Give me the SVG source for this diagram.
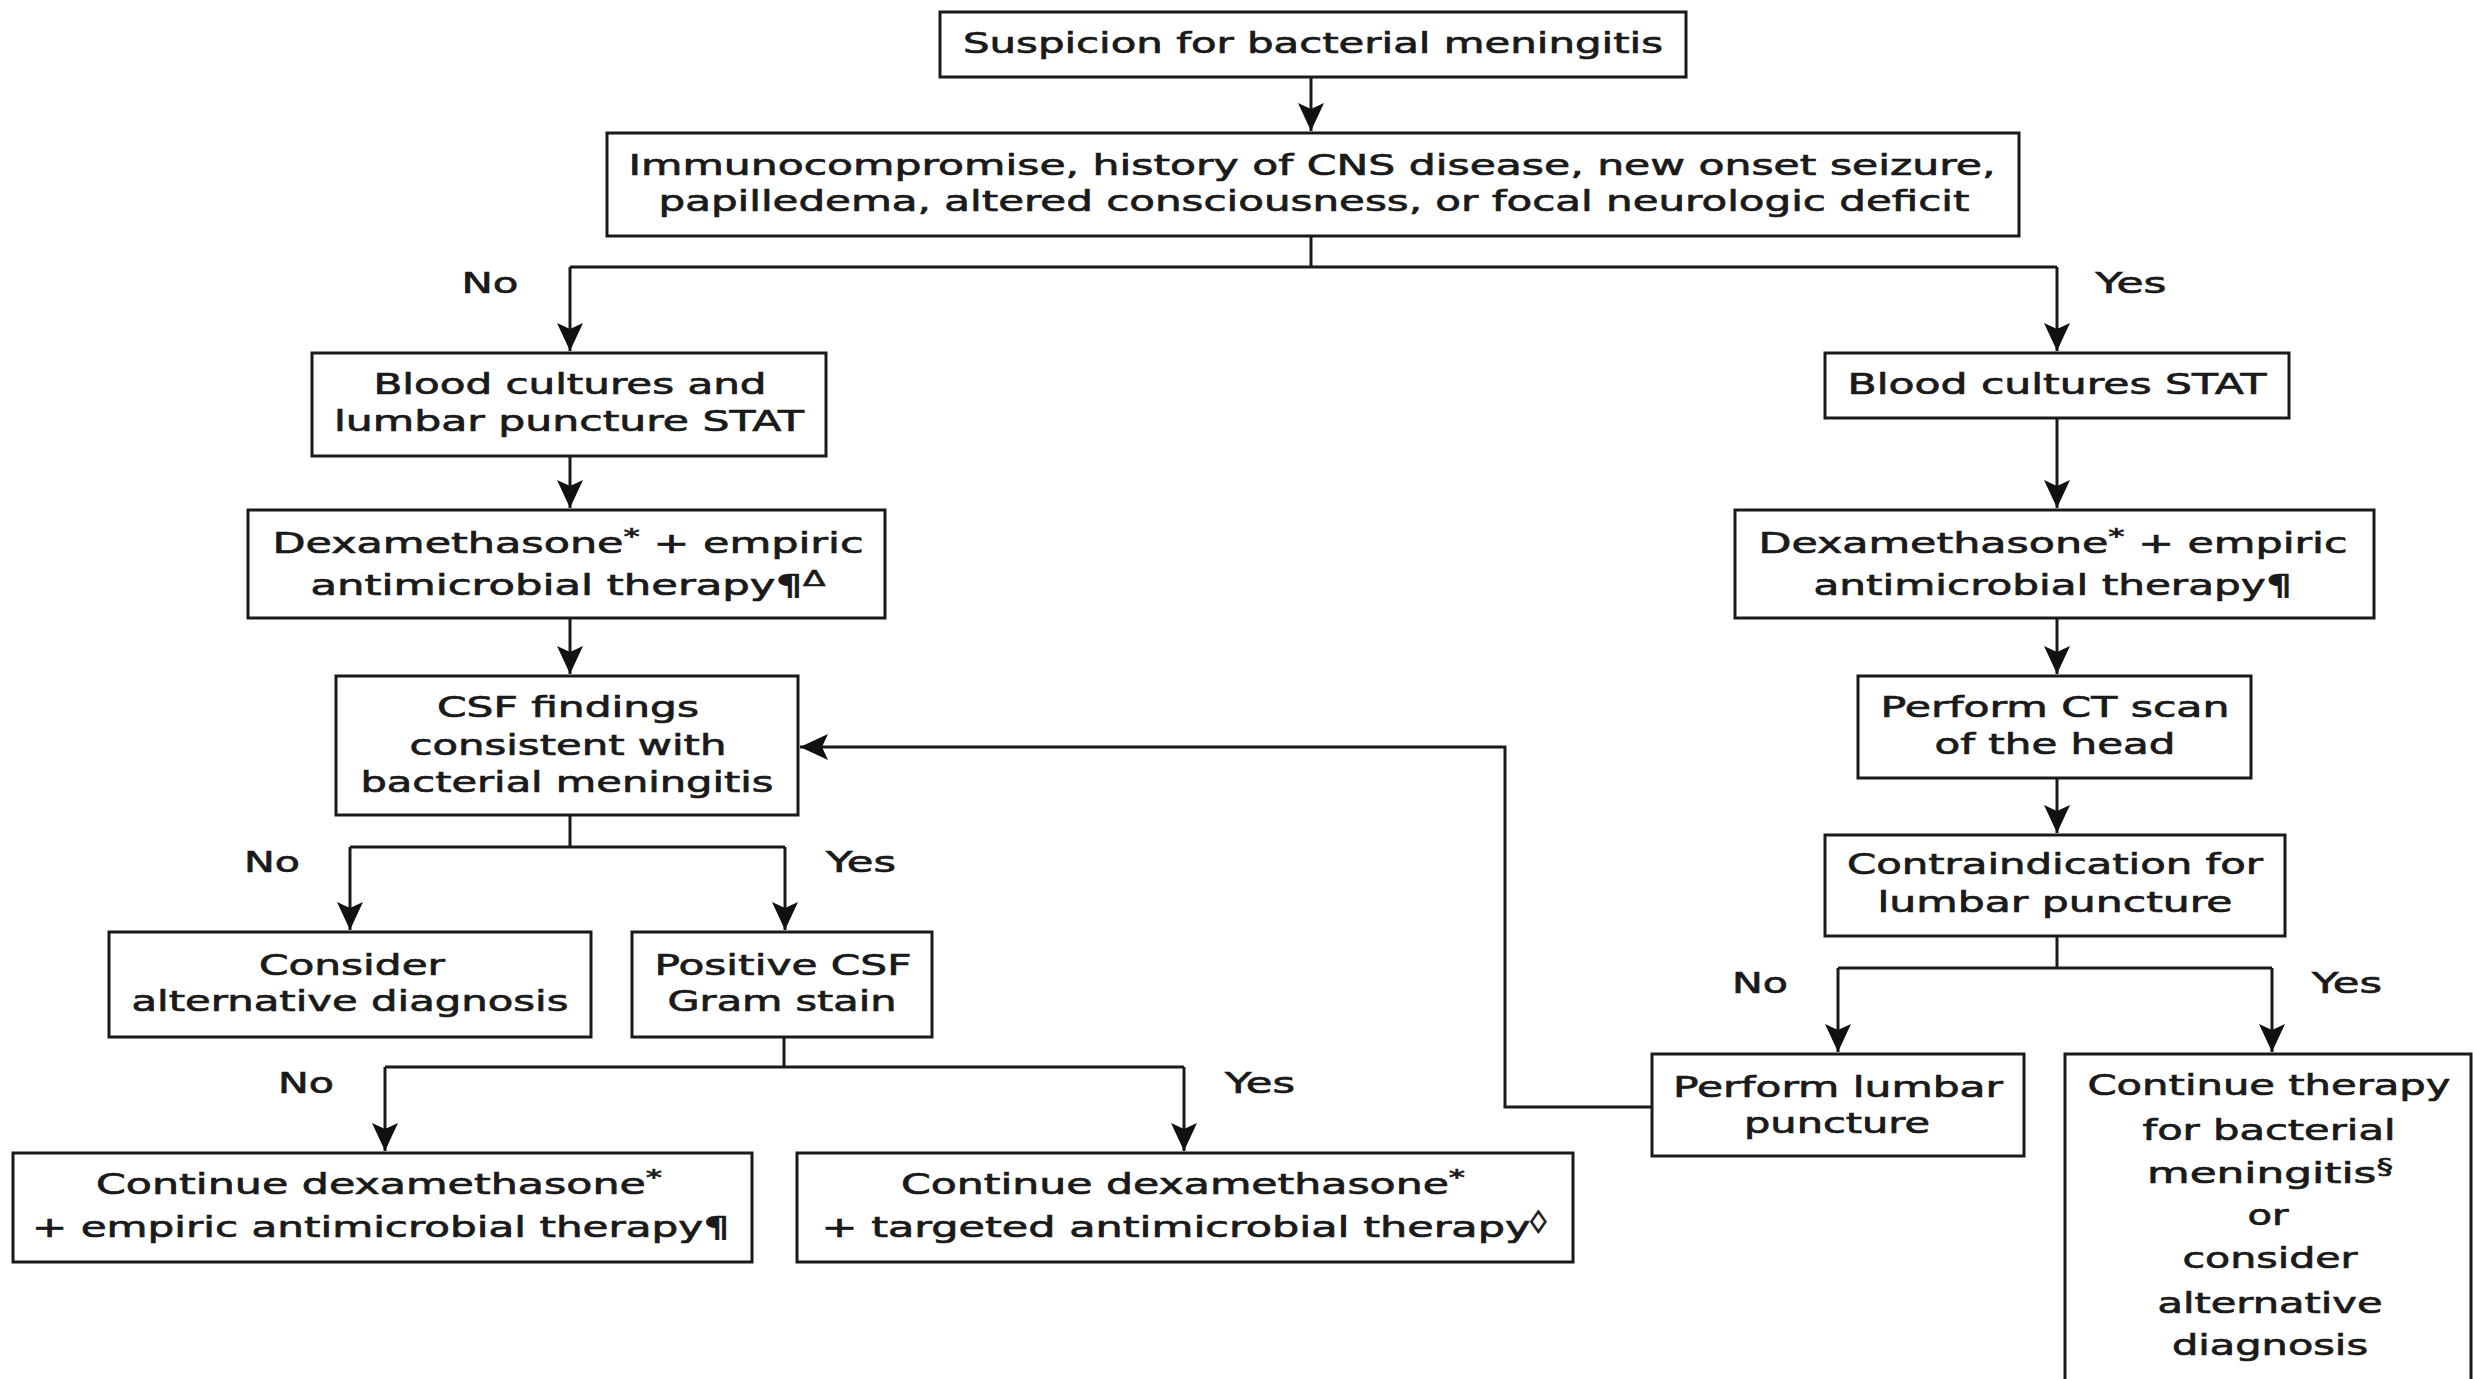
<svg xmlns="http://www.w3.org/2000/svg" width="2473" height="1379" viewBox="0 0 2473 1379">
<defs>
<style>
.box{fill:#fff;stroke:#1a1a1a;stroke-width:3}
.ln{fill:none;stroke:#1a1a1a;stroke-width:3}
.ar{marker-end:url(#ah)}
text{font-family:"DejaVu Sans",Verdana,sans-serif;font-size:29px;fill:#1a1a1a;stroke:#1a1a1a;stroke-width:0.7;text-anchor:middle}
.sup{font-size:22px}
</style>
<marker id="ah" markerUnits="userSpaceOnUse" viewBox="-30 -15 32 30" markerWidth="32" markerHeight="30" refX="0" refY="0" orient="auto">
<path d="M0,0 L-28,-13 L-22,0 L-28,13 Z" fill="#111"/>
</marker>
</defs>
<rect width="2473" height="1379" fill="#fff"/>

<g id="connectors">
<path class="ln ar" d="M1311,77 V131"/>
<path class="ln" d="M1311,236 V267 M570,267 H2057"/>
<path class="ln ar" d="M570,267 V351"/>
<path class="ln ar" d="M2057,267 V351"/>
<path class="ln ar" d="M570,456 V508"/>
<path class="ln ar" d="M570,618 V674"/>
<path class="ln" d="M570,815 V847 M350,847 H785"/>
<path class="ln ar" d="M350,847 V930"/>
<path class="ln ar" d="M785,847 V930"/>
<path class="ln" d="M784,1037 V1067 M385,1067 H1184"/>
<path class="ln ar" d="M385,1067 V1151"/>
<path class="ln ar" d="M1184,1067 V1151"/>
<path class="ln ar" d="M2057,418 V508"/>
<path class="ln ar" d="M2057,618 V674"/>
<path class="ln ar" d="M2057,778 V833"/>
<path class="ln" d="M2057,936 V968 M1838,968 H2272"/>
<path class="ln ar" d="M1838,968 V1052"/>
<path class="ln ar" d="M2272,968 V1052"/>
<path class="ln ar" d="M1652,1107 H1505 V747 H800"/>
<text x="490" y="293" textLength="57" lengthAdjust="spacingAndGlyphs">No</text>
<text x="2131" y="293" textLength="71" lengthAdjust="spacingAndGlyphs">Yes</text>
<text x="272" y="872" textLength="56" lengthAdjust="spacingAndGlyphs">No</text>
<text x="861" y="872" textLength="70" lengthAdjust="spacingAndGlyphs">Yes</text>
<text x="306" y="1093" textLength="56" lengthAdjust="spacingAndGlyphs">No</text>
<text x="1260" y="1093" textLength="70" lengthAdjust="spacingAndGlyphs">Yes</text>
<text x="1760" y="993" textLength="56" lengthAdjust="spacingAndGlyphs">No</text>
<text x="2347" y="993" textLength="70" lengthAdjust="spacingAndGlyphs">Yes</text>
</g>

<g id="n1"><rect class="box" x="940" y="12" width="746" height="65"/>
<text x="1313" y="53" textLength="700" lengthAdjust="spacingAndGlyphs">Suspicion for bacterial meningitis</text></g>

<g id="n2"><rect class="box" x="607" y="133" width="1412" height="103"/>
<text x="1312" y="175" textLength="1367" lengthAdjust="spacingAndGlyphs">Immunocompromise, history of CNS disease, new onset seizure,</text>
<text x="1314" y="211" textLength="1311" lengthAdjust="spacingAndGlyphs">papilledema, altered consciousness, or focal neurologic deficit</text></g>

<g id="n3"><rect class="box" x="312" y="353" width="514" height="103"/>
<text x="570" y="394" textLength="393" lengthAdjust="spacingAndGlyphs">Blood cultures and</text>
<text x="569" y="431" textLength="470" lengthAdjust="spacingAndGlyphs">lumbar puncture STAT</text></g>

<g id="n4"><rect class="box" x="248" y="510" width="637" height="108"/>
<text x="568" y="553" textLength="591" lengthAdjust="spacingAndGlyphs">Dexamethasone<tspan class="sup" dy="-9">*</tspan><tspan dy="9"> + empiric</tspan></text>
<text x="568" y="595" textLength="515" lengthAdjust="spacingAndGlyphs">antimicrobial therapy¶<tspan class="sup" dy="-9">Δ</tspan></text></g>

<g id="n5"><rect class="box" x="336" y="676" width="462" height="139"/>
<text x="568" y="717" textLength="262" lengthAdjust="spacingAndGlyphs">CSF findings</text>
<text x="568" y="755" textLength="317" lengthAdjust="spacingAndGlyphs">consistent with</text>
<text x="567" y="792" textLength="413" lengthAdjust="spacingAndGlyphs">bacterial meningitis</text></g>

<g id="n6"><rect class="box" x="109" y="932" width="482" height="105"/>
<text x="352" y="975" textLength="186" lengthAdjust="spacingAndGlyphs">Consider</text>
<text x="350" y="1011" textLength="437" lengthAdjust="spacingAndGlyphs">alternative diagnosis</text></g>

<g id="n7"><rect class="box" x="632" y="932" width="300" height="105"/>
<text x="783" y="975" textLength="257" lengthAdjust="spacingAndGlyphs">Positive CSF</text>
<text x="782" y="1011" textLength="229" lengthAdjust="spacingAndGlyphs">Gram stain</text></g>

<g id="n8"><rect class="box" x="13" y="1153" width="739" height="109"/>
<text x="379" y="1194" textLength="566" lengthAdjust="spacingAndGlyphs">Continue dexamethasone<tspan class="sup" dy="-9">*</tspan></text>
<text x="381" y="1237" textLength="698" lengthAdjust="spacingAndGlyphs">+ empiric antimicrobial therapy¶</text></g>

<g id="n9"><rect class="box" x="797" y="1153" width="776" height="109"/>
<text x="1183" y="1194" textLength="564" lengthAdjust="spacingAndGlyphs">Continue dexamethasone<tspan class="sup" dy="-9">*</tspan></text>
<text x="1184" y="1237" textLength="725" lengthAdjust="spacingAndGlyphs">+ targeted antimicrobial therapy<tspan class="sup" dy="-9">◊</tspan></text></g>

<g id="n10"><rect class="box" x="1825" y="353" width="464" height="65"/>
<text x="2057" y="394" textLength="419" lengthAdjust="spacingAndGlyphs">Blood cultures STAT</text></g>

<g id="n11"><rect class="box" x="1735" y="510" width="639" height="108"/>
<text x="2053" y="553" textLength="589" lengthAdjust="spacingAndGlyphs">Dexamethasone<tspan class="sup" dy="-9">*</tspan><tspan dy="9"> + empiric</tspan></text>
<text x="2053" y="595" textLength="479" lengthAdjust="spacingAndGlyphs">antimicrobial therapy¶</text></g>

<g id="n12"><rect class="box" x="1858" y="676" width="393" height="102"/>
<text x="2055" y="717" textLength="349" lengthAdjust="spacingAndGlyphs">Perform CT scan</text>
<text x="2055" y="754" textLength="241" lengthAdjust="spacingAndGlyphs">of the head</text></g>

<g id="n13"><rect class="box" x="1825" y="835" width="460" height="101"/>
<text x="2055" y="874" textLength="416" lengthAdjust="spacingAndGlyphs">Contraindication for</text>
<text x="2055" y="912" textLength="355" lengthAdjust="spacingAndGlyphs">lumbar puncture</text></g>

<g id="n14"><rect class="box" x="1652" y="1054" width="372" height="102"/>
<text x="1838" y="1097" textLength="330" lengthAdjust="spacingAndGlyphs">Perform lumbar</text>
<text x="1837" y="1133" textLength="186" lengthAdjust="spacingAndGlyphs">puncture</text></g>

<g id="n15"><rect class="box" x="2065" y="1054" width="406" height="345"/>
<text x="2269" y="1095" textLength="363" lengthAdjust="spacingAndGlyphs">Continue therapy</text>
<text x="2269" y="1140" textLength="253" lengthAdjust="spacingAndGlyphs">for bacterial</text>
<text x="2270" y="1183" textLength="246" lengthAdjust="spacingAndGlyphs">meningitis<tspan class="sup" dy="-9">§</tspan></text>
<text x="2268" y="1225" textLength="41" lengthAdjust="spacingAndGlyphs">or</text>
<text x="2270" y="1268" textLength="175" lengthAdjust="spacingAndGlyphs">consider</text>
<text x="2270" y="1313" textLength="225" lengthAdjust="spacingAndGlyphs">alternative</text>
<text x="2270" y="1355" textLength="196" lengthAdjust="spacingAndGlyphs">diagnosis</text></g>
</svg>
